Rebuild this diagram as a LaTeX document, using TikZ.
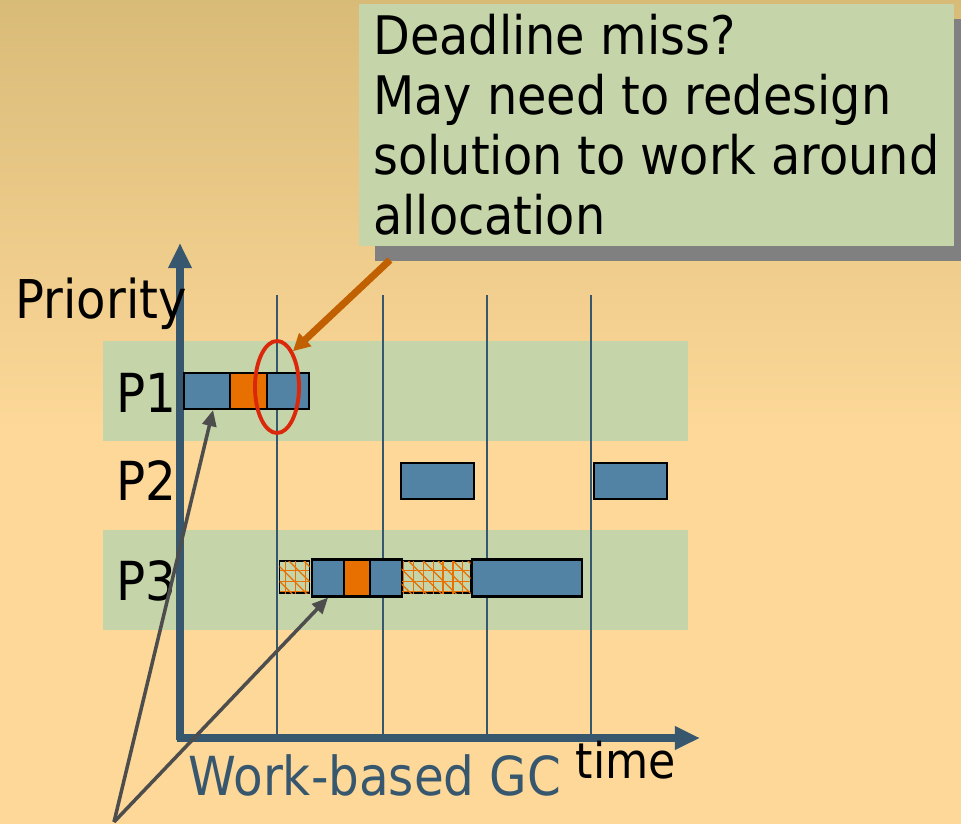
\documentclass[tikz,border=0pt]{standalone}
\usepackage{fontspec}
\setmainfont{DejaVu Sans Condensed}
\usetikzlibrary{shapes.geometric,patterns.meta,arrows.meta,shadows}

\definecolor{bgtop}{RGB}{217,187,120}
\definecolor{bgbot}{RGB}{253,216,152}
\definecolor{band}{RGB}{197,212,169}
\definecolor{axis}{RGB}{55,87,111}
\definecolor{task}{RGB}{82,131,164}
\definecolor{gc}{RGB}{232,112,0}
\definecolor{hint}{RGB}{192,96,0}
\definecolor{miss}{RGB}{220,40,10}
\definecolor{pointer}{RGB}{77,77,77}

\tikzset{
	run/.style={draw=black, fill=task, line width=0.6pt, anchor=west, inner sep=0pt, minimum height=0.36cm},
	gcrun/.style={run, fill=gc},
	hatch/.style={draw=black, line width=0.3pt, anchor=west, inner sep=0pt, minimum height=0.32cm,
		pattern={Lines[angle=0,distance=3pt,line width=0.35pt]}, pattern color=gc,
		postaction={pattern={Lines[angle=90,distance=2.8pt,line width=0.35pt]}, pattern color=gc},
		postaction={pattern={Lines[angle=-45,distance=3pt,line width=0.35pt]}, pattern color=gc}},
	axisline/.style={axis, line width=2pt, -{Triangle[length=0.25cm,width=0.22cm]}},
	grid/.style={axis, line width=0.45pt},
	lbl/.style={anchor=base west, inner sep=0pt, font=\fontsize{15.3}{18}\selectfont},
	pointerarrow/.style={pointer, line width=1pt, -{Triangle[length=0.16cm,width=0.14cm]}}
}

\begin{document}
\begin{tikzpicture}[x=0.01cm,y=-0.01cm]
	\useasboundingbox (0,0) rectangle (961,824);
	\shade[top color=bgtop,bottom color=bgbot] (0,0) rectangle (961,430);
	\fill[bgbot] (0,430) rectangle (961,824);

	% priority bands
	\fill[band] (103,341) rectangle (688,441);
	\fill[band] (103,530) rectangle (688,630);

	\foreach \x in {277,383,487,591}
		\draw[grid] (\x,295) -- (\x,738);
	\draw[axisline] (180,740) -- (180,243);
	\draw[axisline] (177,738) -- (700,738);

	% P1
	\node[run, minimum width=0.46cm] (p1a) at (183,391) {};
	\node[gcrun, minimum width=0.37cm] (p1gc) at (229,391) {};
	\node[run, minimum width=0.42cm] (p1b) at (266,391) {};
	% P2
	\node[run, minimum width=0.73cm] (p2a) at (400,481) {};
	\node[run, minimum width=0.73cm] (p2b) at (593,481) {};
	% P3
	\node[hatch, minimum width=0.30cm] (h1) at (279,577) {};
	\node[run, minimum width=0.32cm, minimum height=0.37cm] (p3a) at (311,578) {};
	\node[gcrun, minimum width=0.26cm, minimum height=0.37cm] (p3gc) at (343,578) {};
	\node[run, minimum width=0.32cm, minimum height=0.37cm] (p3b) at (369,578) {};
	\node[hatch, minimum width=0.69cm] (h2) at (401,577) {};
	\node[run, minimum width=1.10cm, minimum height=0.37cm] (p3c) at (471,578) {};

	\node[ellipse, draw=miss, line width=1.1pt, minimum width=0.44cm, minimum height=0.92cm, inner sep=0pt] (deadline) at (277,387) {};

	\node[anchor=north west, fill=band, minimum width=5.95cm, minimum height=2.42cm,
		inner xsep=0.12cm, inner ysep=0pt, align=left, font=\fontsize{15.1}{17.07}\selectfont,
		drop shadow={shadow xshift=0.16cm, shadow yshift=-0.15cm, fill=gray, opacity=1}] (note) at (358,3)
		{Deadline miss?\\May need to redesign\\solution to work around\\allocation};

	\coordinate (hintfrom) at (390,260);
	\draw[hint, line width=2pt, -{Triangle[length=0.17cm,width=0.17cm]}] (hintfrom) -- (deadline.66);

	\node[lbl] (l1) at (116,412) {P1};
	\node[lbl] (l2) at (116,500) {P2};
	\node[lbl] (l3) at (116,600) {P3};
	\node[lbl, font=\fontsize{15.2}{16}\selectfont] (prio) at (15,318) {Priority};
	\node[lbl, font=\fontsize{14}{16}\selectfont] (time) at (575,778) {time};
	\node[lbl, text=axis] (wgc) at (188,795) {Work-based GC};

	\coordinate (src) at (114,822);
	\draw[pointerarrow] (src) -- ([xshift=0.06cm]p1a.south);
	\draw[pointerarrow] (src) -- (p3a.south);
\end{tikzpicture}
\end{document}
